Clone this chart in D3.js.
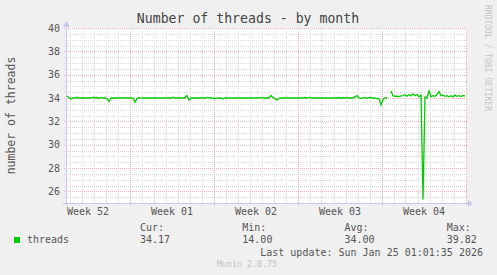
<!DOCTYPE html>
<html>
<head>
<meta charset="utf-8">
<script src="https://cdn.jsdelivr.net/npm/d3@7"></script>
<style>
body{margin:0;background:#f0f0f0;}
svg text{font-family:"DejaVu Sans Mono",monospace;}
</style>
</head>
<body>
<div class="graph-section"></div>
<script>
// time span of the graph (rrd month view, 2h per pixel)
var startTime = "2025-12-22T19:00:00Z";
var endTime = "2026-01-25T03:00:00Z";
var stepHours = 4;

// threads, one value every 4 hours from startTime (null = no data)
var threads = [
  34.17,34.05,33.92,34.0,34.0,34.06,34.0,34.0,34.0,34.0,34.0,34.0,
  34.0,34.06,34.0,34.04,33.98,34.05,34.0,34.0,33.96,33.7,33.98,34.0,
  34.0,34.0,34.0,34.0,34.03,34.0,34.0,34.0,34.0,33.98,33.65,33.95,
  34.05,33.97,34.0,34.0,34.0,34.0,34.0,34.0,34.0,34.0,34.0,34.0,
  34.0,34.0,34.0,34.0,34.0,34.06,34.0,34.0,34.0,34.0,34.0,34.0,
  34.22,33.82,34.0,34.0,34.0,34.0,34.0,34.0,34.0,34.0,34.05,34.04,
  34.0,34.0,33.93,34.0,34.0,34.0,33.93,34.0,34.0,34.0,34.0,34.0,
  34.0,34.0,34.0,34.0,34.0,34.0,34.0,34.0,34.0,34.0,34.0,34.0,
  34.0,34.05,34.0,34.0,34.0,34.0,34.22,34.05,33.95,33.82,33.97,34.0,
  34.0,34.0,34.0,34.0,34.0,34.0,34.0,34.0,34.0,34.0,34.0,34.04,
  34.0,34.05,34.0,34.0,34.0,34.0,34.0,34.0,34.0,34.0,34.0,34.0,
  34.0,34.0,34.0,34.0,34.04,34.0,34.02,34.0,34.03,34.0,34.0,34.0,
  34.1,34.2,34.0,33.97,34.0,34.05,33.98,34.04,34.06,33.98,34.0,33.95,
  33.95,33.4,33.9,34.0,34.02,null,34.6,34.2,34.15,34.15,34.12,34.18,
  34.2,34.28,34.15,34.3,34.18,34.35,34.2,34.32,34.1,34.25,25.3,34.1,
  34.0,34.6,34.1,34.2,34.15,34.3,34.55,34.2,34.25,34.15,34.2,34.1,
  34.2,34.1,34.25,34.15,34.2,34.12,34.22,34.17
];

var weekStarts = ["2025-12-21","2025-12-28","2026-01-04","2026-01-11","2026-01-18","2026-01-25"];
var weekLabels = ["Week 52","Week 01","Week 02","Week 03","Week 04"];
var yTicks = [26,28,30,32,34,36,38,40];
var legendHeads = ["Cur:","Min:","Avg:","Max:"];
var legendValues = ["34.17","14.00","34.00","39.82"];

var screen = {width:497, height:275};
var plot = {left:67, top:28, width:400, height:175};

var t0 = new Date(startTime), t1 = new Date(endTime);

var xScale = d3.scaleUtc()
  .domain([t0, t1])
  .range([plot.left, plot.left + plot.width]);

var yScale = d3.scaleLinear()
  .domain([25, 40])
  .range([plot.top + plot.height, plot.top]);

var svg = d3.select(".graph-section")
  .append("svg")
  .attr("width", screen.width)
  .attr("height", screen.height);

svg.append("rect")
  .attr("width", screen.width).attr("height", screen.height)
  .attr("fill", "#f0f0f0");

svg.append("rect")
  .attr("x", plot.left).attr("y", plot.top)
  .attr("width", plot.width).attr("height", plot.height)
  .attr("fill", "#ffffff");

var crisp = function(v){ return Math.round(v) + 0.5; };

// minor grid
var grid = svg.append("g").attr("fill", "none");
var minorY = d3.range(25.5, 40, 0.5).filter(function(v){ return yTicks.indexOf(v) < 0; });
grid.selectAll(".hmin").data(minorY).enter().append("line")
  .attr("x1", plot.left - 3).attr("x2", plot.left + plot.width)
  .attr("y1", function(d){ return crisp(yScale(d)); })
  .attr("y2", function(d){ return crisp(yScale(d)); })
  .attr("stroke", "#d8d8d8").attr("stroke-dasharray", "1,1");

var days = d3.utcDay.range(t0, t1).filter(function(d){ return d.getUTCDay() != 0; });
grid.selectAll(".vmin").data(days).enter().append("line")
  .attr("x1", function(d){ return crisp(xScale(d)); })
  .attr("x2", function(d){ return crisp(xScale(d)); })
  .attr("y1", plot.top).attr("y2", plot.top + plot.height)
  .attr("stroke", "#d8d8d8").attr("stroke-dasharray", "1,1");

// major grid
grid.selectAll(".hmaj").data(yTicks).enter().append("line")
  .attr("x1", plot.left - 3).attr("x2", plot.left + plot.width)
  .attr("y1", function(d){ return crisp(yScale(d)); })
  .attr("y2", function(d){ return crisp(yScale(d)); })
  .attr("stroke", "#eab4b4").attr("stroke-dasharray", "1,1");

var majors = weekStarts.map(function(s){ return new Date(s + "T00:00:00Z"); })
  .filter(function(d){ return d > t0 && d < t1; });
grid.selectAll(".vmaj").data(majors).enter().append("line")
  .attr("x1", function(d){ return crisp(xScale(d)); })
  .attr("x2", function(d){ return crisp(xScale(d)); })
  .attr("y1", plot.top).attr("y2", plot.top + plot.height + 3)
  .attr("stroke", "#eab4b4").attr("stroke-dasharray", "1,1");

// axes lines with arrows
var axisColor = "#c6c6ee";
var ax = svg.append("g");
var yb = crisp(plot.top + plot.height);
var xl = plot.left - 0.5;
ax.append("line").attr("x1", plot.left - 4).attr("x2", plot.left + plot.width + 4)
  .attr("y1", yb).attr("y2", yb).attr("stroke", axisColor);
ax.append("path")
  .attr("d", "M" + (plot.left + plot.width + 1) + "," + (yb - 3.5) + "L" + (plot.left + plot.width + 6) + "," + yb + "L" + (plot.left + plot.width + 1) + "," + (yb + 3.5) + "Z")
  .attr("fill", axisColor);
ax.append("line").attr("x1", xl).attr("x2", xl)
  .attr("y1", plot.top + plot.height + 3).attr("y2", plot.top - 4).attr("stroke", axisColor);
ax.append("path")
  .attr("d", "M" + (xl - 3.5) + "," + (plot.top - 1) + "L" + xl + "," + (plot.top - 7) + "L" + (xl + 3.5) + "," + (plot.top - 1) + "Z")
  .attr("fill", axisColor);

// tick labels
var textColor = "#555";
var yAxis = d3.axisLeft(yScale).tickValues(yTicks).tickSize(0).tickPadding(7);
svg.append("g")
  .attr("transform", "translate(" + plot.left + ",0)")
  .call(yAxis)
  .call(function(g){ g.select(".domain").remove(); })
  .selectAll("text").attr("font-size", 10).attr("fill", textColor)
  .attr("font-family", "DejaVu Sans Mono");

var weekMids = weekLabels.map(function(l, i){
  var a = new Date(weekStarts[i] + "T00:00:00Z"), b = new Date(weekStarts[i + 1] + "T00:00:00Z");
  return new Date((a.getTime() + b.getTime()) / 2);
});
var xAxis = d3.axisBottom(xScale).tickValues(weekMids).tickSize(0).tickPadding(5)
  .tickFormat(function(d, i){ return weekLabels[i]; });
svg.append("g")
  .attr("transform", "translate(0," + (plot.top + plot.height) + ")")
  .call(xAxis)
  .call(function(g){ g.select(".domain").remove(); })
  .selectAll("text").attr("font-size", 10).attr("fill", textColor)
  .attr("font-family", "DejaVu Sans Mono");

// the series
var line = d3.line()
  .defined(function(d){ return d != null; })
  .x(function(d, i){ return xScale(new Date(t0.getTime() + i * stepHours * 3600000)); })
  .y(function(d){ return yScale(d); });

svg.append("path")
  .datum(threads)
  .attr("d", line)
  .attr("fill", "none")
  .attr("stroke", "#00cc00")
  .attr("stroke-width", 1.3);

// titles
svg.append("text")
  .attr("x", 248).attr("y", 23)
  .attr("text-anchor", "middle")
  .attr("font-size", 13.2).attr("fill", "#444")
  .text("Number of threads - by month");

svg.append("text")
  .attr("transform", "translate(15," + (plot.top + plot.height / 2) + ") rotate(-90)")
  .attr("text-anchor", "middle")
  .attr("font-size", 11.5).attr("fill", textColor)
  .text("number of threads");

svg.append("text")
  .attr("transform", "translate(485,5) rotate(90)")
  .attr("font-size", 8).attr("fill", "#c4c4c4")
  .text("RRDTOOL / TOBI OETIKER");

// legend
var legend = svg.append("g").attr("font-size", 10).attr("fill", textColor);
legend.append("rect")
  .attr("x", 14).attr("y", 237).attr("width", 6).attr("height", 6)
  .attr("fill", "#00cc00");
legend.append("text").attr("x", 27).attr("y", 243).text("threads");

var colX = [140, 242.3, 344.5, 446.7];
legend.selectAll(".head").data(legendHeads).enter().append("text")
  .attr("x", function(d, i){ return colX[i]; }).attr("y", 231)
  .text(function(d){ return d; });
legend.selectAll(".val").data(legendValues).enter().append("text")
  .attr("x", function(d, i){ return colX[i]; }).attr("y", 243)
  .text(function(d){ return d; });

legend.append("text")
  .attr("x", 483).attr("y", 255.5).attr("text-anchor", "end")
  .text("Last update: Sun Jan 25 01:01:35 2026");

svg.append("text")
  .attr("x", 247).attr("y", 267).attr("text-anchor", "middle")
  .attr("font-size", 8.3).attr("fill", "#c0c0c0")
  .text("Munin 2.0.75");
</script>
</body>
</html>
